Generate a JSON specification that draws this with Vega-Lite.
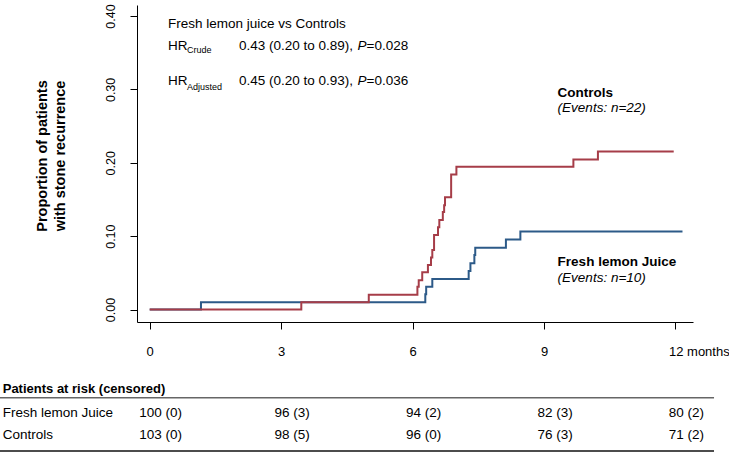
{
  "$schema": "https://vega.github.io/schema/vega-lite/v6.json",
  "width": 556,
  "height": 317,
  "autosize": {"type": "none"},
  "padding": {"left": 137, "top": 5, "right": 36, "bottom": 130},
  "background": "white",
  "config": {
    "view": {"stroke": null},
    "font": "Liberation Sans",
    "axis": {
      "grid": false,
      "domainColor": "black",
      "tickColor": "black",
      "labelColor": "black",
      "titleColor": "black",
      "labelFont": "Liberation Sans",
      "titleFont": "Liberation Sans"
    },
    "text": {"font": "Liberation Sans", "color": "black"}
  },
  "datasets": {
    "curves": [
      {"arm": "Fresh lemon Juice", "month": 0, "prop": 0},
      {"arm": "Fresh lemon Juice", "month": 1.17, "prop": 0.0098},
      {"arm": "Fresh lemon Juice", "month": 6.29, "prop": 0.0207},
      {"arm": "Fresh lemon Juice", "month": 6.31, "prop": 0.031},
      {"arm": "Fresh lemon Juice", "month": 6.45, "prop": 0.0415},
      {"arm": "Fresh lemon Juice", "month": 7.28, "prop": 0.0524},
      {"arm": "Fresh lemon Juice", "month": 7.32, "prop": 0.063},
      {"arm": "Fresh lemon Juice", "month": 7.41, "prop": 0.0742},
      {"arm": "Fresh lemon Juice", "month": 7.43, "prop": 0.0842},
      {"arm": "Fresh lemon Juice", "month": 8.13, "prop": 0.0956},
      {"arm": "Fresh lemon Juice", "month": 8.46, "prop": 0.1065},
      {"arm": "Fresh lemon Juice", "month": 12.16, "prop": 0.1065},
      {"arm": "Controls", "month": 0, "prop": 0},
      {"arm": "Controls", "month": 3.46, "prop": 0.0098},
      {"arm": "Controls", "month": 5.0, "prop": 0.0202},
      {"arm": "Controls", "month": 6.11, "prop": 0.031},
      {"arm": "Controls", "month": 6.14, "prop": 0.040},
      {"arm": "Controls", "month": 6.22, "prop": 0.0507},
      {"arm": "Controls", "month": 6.35, "prop": 0.0606},
      {"arm": "Controls", "month": 6.42, "prop": 0.071},
      {"arm": "Controls", "month": 6.45, "prop": 0.081},
      {"arm": "Controls", "month": 6.49, "prop": 0.1015},
      {"arm": "Controls", "month": 6.58, "prop": 0.112},
      {"arm": "Controls", "month": 6.61, "prop": 0.122},
      {"arm": "Controls", "month": 6.69, "prop": 0.133},
      {"arm": "Controls", "month": 6.72, "prop": 0.142},
      {"arm": "Controls", "month": 6.74, "prop": 0.153},
      {"arm": "Controls", "month": 6.88, "prop": 0.184},
      {"arm": "Controls", "month": 7.0, "prop": 0.1945},
      {"arm": "Controls", "month": 9.67, "prop": 0.2046},
      {"arm": "Controls", "month": 10.23, "prop": 0.2155},
      {"arm": "Controls", "month": 11.96, "prop": 0.2155}
    ],
    "risk": [
      {"arm": "Fresh lemon Juice", "month": 0, "atRisk": "100 (0)"},
      {"arm": "Fresh lemon Juice", "month": 3, "atRisk": "96 (3)"},
      {"arm": "Fresh lemon Juice", "month": 6, "atRisk": "94 (2)"},
      {"arm": "Fresh lemon Juice", "month": 9, "atRisk": "82 (3)"},
      {"arm": "Fresh lemon Juice", "month": 12, "atRisk": "80 (2)"},
      {"arm": "Controls", "month": 0, "atRisk": "103 (0)"},
      {"arm": "Controls", "month": 3, "atRisk": "98 (5)"},
      {"arm": "Controls", "month": 6, "atRisk": "96 (0)"},
      {"arm": "Controls", "month": 9, "atRisk": "76 (3)"},
      {"arm": "Controls", "month": 12, "atRisk": "71 (2)"}
    ]
  },
  "layer": [
    {
      "data": {"name": "curves"},
      "mark": {"type": "line", "interpolate": "step-after", "strokeWidth": 2},
      "encoding": {
        "x": {
          "field": "month",
          "type": "quantitative",
          "title": null,
          "scale": {"domain": [-0.29, 12.4], "nice": false, "zero": false},
          "axis": {
            "values": [0, 3, 6, 9, 12],
            "tickSize": 7,
            "labelFontSize": 13,
            "labelPadding": 16,
            "labelFlush": false,
            "labelOverlap": false,
            "labelExpr": "datum.value == 12 ? '12 months' : datum.label",
            "labelAlign": {"condition": {"test": "datum.value == 12", "value": "left"}, "value": "center"},
            "labelOffset": {"condition": {"test": "datum.value == 12", "value": -7}, "value": 0}
          }
        },
        "y": {
          "field": "prop",
          "type": "quantitative",
          "title": ["Proportion of patients", "with stone recurrence"],
          "scale": {"domain": [-0.017, 0.415], "nice": false, "zero": false},
          "axis": {
            "values": [0, 0.1, 0.2, 0.3, 0.4],
            "format": ".2f",
            "tickSize": 7,
            "labelFontSize": 12.5,
            "labelAngle": -90,
            "labelAlign": "center",
            "labelBaseline": "alphabetic",
            "labelPadding": 16,
            "labelOverlap": false,
            "titleFontSize": 14.5,
            "titleFontWeight": "bold",
            "titleLineHeight": 18,
            "titleAngle": -90,
            "titleAlign": "center",
            "titleBaseline": "middle",
            "titleX": -95,
            "titleY": 150.5
          }
        },
        "color": {
          "field": "arm",
          "type": "nominal",
          "scale": {"domain": ["Fresh lemon Juice", "Controls"], "range": ["#2c5a88", "#a63d48"]},
          "legend": null
        }
      }
    },
    {
      "data": {"values": [{"label": "Fresh lemon juice vs Controls"}]},
      "mark": {"type": "text", "align": "left", "baseline": "middle", "fontSize": 13.5},
      "encoding": {"x": {"datum": 0.418}, "y": {"datum": 0.389}, "text": {"field": "label"}}
    },
    {
      "data": {"values": [{"label": "HR"}]},
      "mark": {"type": "text", "align": "left", "baseline": "middle", "fontSize": 13.5},
      "encoding": {"x": {"datum": 0.418}, "y": {"datum": 0.3595}, "text": {"field": "label"}}
    },
    {
      "data": {"values": [{"label": "Crude"}]},
      "mark": {"type": "text", "align": "left", "baseline": "middle", "fontSize": 9},
      "encoding": {"x": {"datum": 0.851}, "y": {"datum": 0.3536}, "text": {"field": "label"}}
    },
    {
      "data": {"values": [{"label": "0.43 (0.20 to 0.89),"}]},
      "mark": {"type": "text", "align": "left", "baseline": "middle", "fontSize": 13.5},
      "encoding": {"x": {"datum": 2.038}, "y": {"datum": 0.3595}, "text": {"field": "label"}}
    },
    {
      "data": {"values": [{"label": "P"}]},
      "mark": {"type": "text", "align": "left", "baseline": "middle", "fontSize": 13.5, "fontStyle": "italic"},
      "encoding": {"x": {"datum": 4.743}, "y": {"datum": 0.3595}, "text": {"field": "label"}}
    },
    {
      "data": {"values": [{"label": "=0.028"}]},
      "mark": {"type": "text", "align": "left", "baseline": "middle", "fontSize": 13.5},
      "encoding": {"x": {"datum": 4.949}, "y": {"datum": 0.3595}, "text": {"field": "label"}}
    },
    {
      "data": {"values": [{"label": "HR"}]},
      "mark": {"type": "text", "align": "left", "baseline": "middle", "fontSize": 13.5},
      "encoding": {"x": {"datum": 0.418}, "y": {"datum": 0.3114}, "text": {"field": "label"}}
    },
    {
      "data": {"values": [{"label": "Adjusted"}]},
      "mark": {"type": "text", "align": "left", "baseline": "middle", "fontSize": 9},
      "encoding": {"x": {"datum": 0.851}, "y": {"datum": 0.3039}, "text": {"field": "label"}}
    },
    {
      "data": {"values": [{"label": "0.45 (0.20 to 0.93),"}]},
      "mark": {"type": "text", "align": "left", "baseline": "middle", "fontSize": 13.5},
      "encoding": {"x": {"datum": 2.038}, "y": {"datum": 0.3114}, "text": {"field": "label"}}
    },
    {
      "data": {"values": [{"label": "P"}]},
      "mark": {"type": "text", "align": "left", "baseline": "middle", "fontSize": 13.5, "fontStyle": "italic"},
      "encoding": {"x": {"datum": 4.743}, "y": {"datum": 0.3114}, "text": {"field": "label"}}
    },
    {
      "data": {"values": [{"label": "=0.036"}]},
      "mark": {"type": "text", "align": "left", "baseline": "middle", "fontSize": 13.5},
      "encoding": {"x": {"datum": 4.949}, "y": {"datum": 0.3114}, "text": {"field": "label"}}
    },
    {
      "data": {"values": [{"label": "Controls"}]},
      "mark": {"type": "text", "align": "left", "baseline": "middle", "fontSize": 13.5, "fontWeight": "bold"},
      "encoding": {"x": {"datum": 9.31}, "y": {"datum": 0.295}, "text": {"field": "label"}}
    },
    {
      "data": {"values": [{"label": "(Events: n=22)"}]},
      "mark": {"type": "text", "align": "left", "baseline": "middle", "fontSize": 13.5, "fontStyle": "italic"},
      "encoding": {"x": {"datum": 9.31}, "y": {"datum": 0.2746}, "text": {"field": "label"}}
    },
    {
      "data": {"values": [{"label": "Fresh lemon Juice"}]},
      "mark": {"type": "text", "align": "left", "baseline": "middle", "fontSize": 13.5, "fontWeight": "bold"},
      "encoding": {"x": {"datum": 9.31}, "y": {"datum": 0.0651}, "text": {"field": "label"}}
    },
    {
      "data": {"values": [{"label": "(Events: n=10)"}]},
      "mark": {"type": "text", "align": "left", "baseline": "middle", "fontSize": 13.5, "fontStyle": "italic"},
      "encoding": {"x": {"datum": 9.31}, "y": {"datum": 0.0433}, "text": {"field": "label"}}
    },
    {
      "data": {"values": [{"label": "Patients at risk (censored)"}]},
      "mark": {"type": "text", "align": "left", "baseline": "middle", "fontSize": 13, "fontWeight": "bold"},
      "encoding": {"x": {"datum": -3.355}, "y": {"datum": -0.1083}, "text": {"field": "label"}}
    },
    {
      "data": {"values": [{}]},
      "mark": {"type": "rule", "color": "#666666", "strokeWidth": 1.5},
      "encoding": {"x": {"datum": -3.417}, "x2": {"datum": 12.88}, "y": {"datum": -0.1202}}
    },
    {
      "data": {"values": [{"label": "Fresh lemon Juice"}]},
      "mark": {"type": "text", "align": "left", "baseline": "middle", "fontSize": 13.5},
      "encoding": {"x": {"datum": -3.355}, "y": {"datum": -0.1415}, "text": {"field": "label"}}
    },
    {
      "data": {"values": [{"label": "Controls"}]},
      "mark": {"type": "text", "align": "left", "baseline": "middle", "fontSize": 13.5},
      "encoding": {"x": {"datum": -3.355}, "y": {"datum": -0.171}, "text": {"field": "label"}}
    },
    {
      "data": {"name": "risk"},
      "transform": [{"filter": "datum.arm == 'Fresh lemon Juice'"}],
      "mark": {"type": "text", "align": "center", "baseline": "middle", "fontSize": 13.5, "dx": 11},
      "encoding": {"x": {"field": "month", "type": "quantitative"}, "y": {"datum": -0.1415}, "text": {"field": "atRisk"}}
    },
    {
      "data": {"name": "risk"},
      "transform": [{"filter": "datum.arm == 'Controls'"}],
      "mark": {"type": "text", "align": "center", "baseline": "middle", "fontSize": 13.5, "dx": 11},
      "encoding": {"x": {"field": "month", "type": "quantitative"}, "y": {"datum": -0.171}, "text": {"field": "atRisk"}}
    },
    {
      "data": {"values": [{}]},
      "mark": {"type": "rule", "color": "#111111", "strokeWidth": 1.5},
      "encoding": {"x": {"datum": -3.417}, "x2": {"datum": 12.88}, "y": {"datum": -0.1928}}
    }
  ]
}
